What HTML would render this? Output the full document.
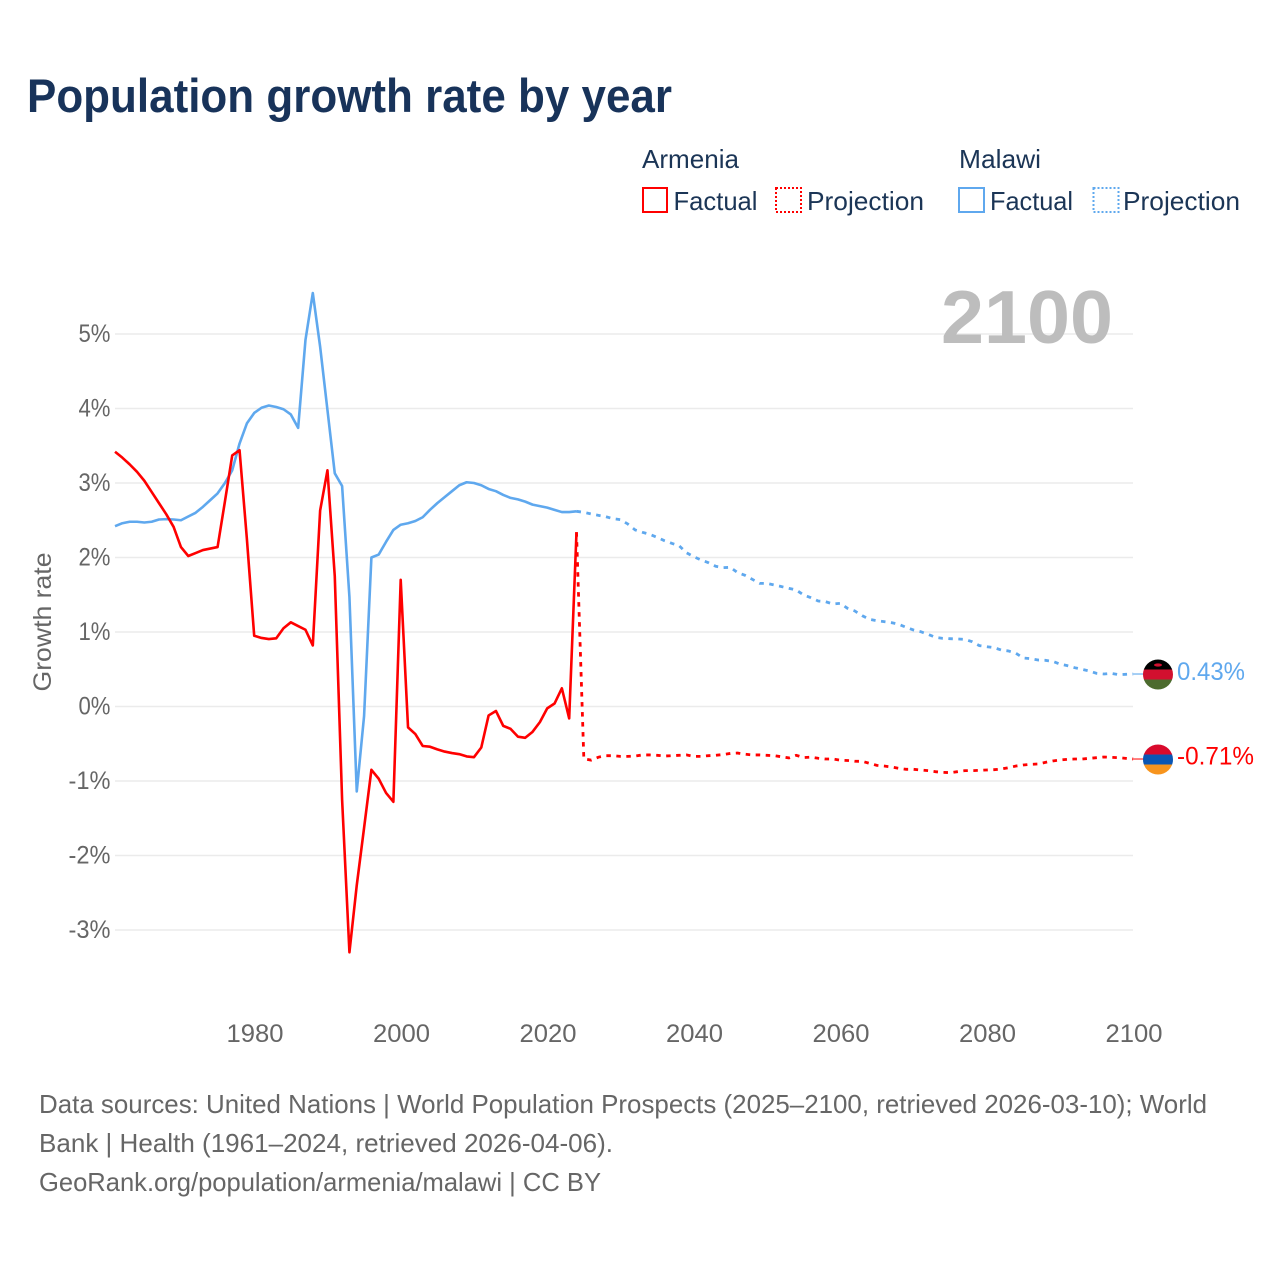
<!DOCTYPE html>
<html lang="en">
<head>
<meta charset="utf-8">
<title>Population growth rate by year</title>
<style>
  html, body { margin: 0; padding: 0; background: #fff; }
  svg { display: block; font-family: "Liberation Sans", sans-serif; }
</style>
</head>
<body>
<svg id="chart" width="1280" height="1280" viewBox="0 0 1280 1280" xmlns="http://www.w3.org/2000/svg">
  <rect x="0" y="0" width="1280" height="1280" fill="#fff"/>
  <text x="27" y="112" font-size="47" font-weight="700" fill="#18335a" textLength="645" lengthAdjust="spacingAndGlyphs">Population growth rate by year</text>

  <g font-size="26" fill="#1b3556">
    <text x="642" y="168" textLength="97" lengthAdjust="spacingAndGlyphs">Armenia</text>
    <rect x="643" y="188" width="24" height="24" fill="none" stroke="#ff0000" stroke-width="2"/>
    <text x="673.500" y="210" textLength="84" lengthAdjust="spacingAndGlyphs">Factual</text>
    <rect x="776" y="188" width="25" height="24" fill="none" stroke="#ff0000" stroke-width="2" stroke-dasharray="2 2"/>
    <text x="807" y="210" textLength="117" lengthAdjust="spacingAndGlyphs">Projection</text>
    <text x="959" y="168" textLength="82" lengthAdjust="spacingAndGlyphs">Malawi</text>
    <rect x="959" y="188" width="25" height="24" fill="none" stroke="#5fa8ee" stroke-width="2"/>
    <text x="990" y="210" textLength="83" lengthAdjust="spacingAndGlyphs">Factual</text>
    <rect x="1093.500" y="188" width="25" height="24" fill="none" stroke="#5fa8ee" stroke-width="2" stroke-dasharray="2 2"/>
    <text x="1123" y="210" textLength="117" lengthAdjust="spacingAndGlyphs">Projection</text>
  </g>

  <g id="grid"></g>
  <g id="y-axis"></g>
  <g id="x-axis"></g>
  <text transform="translate(51 622) rotate(-90)" text-anchor="middle" font-size="25" fill="#666" textLength="139" lengthAdjust="spacingAndGlyphs">Growth rate</text>
  <text x="941" y="343" font-size="75" font-weight="700" fill="#bdbdbd" textLength="172" lengthAdjust="spacingAndGlyphs">2100</text>

  <g id="series"></g>
  <g id="end-markers"></g>

  <g font-size="26" fill="#666">
    <text x="39" y="1113" textLength="1168" lengthAdjust="spacingAndGlyphs">Data sources: United Nations | World Population Prospects (2025–2100, retrieved 2026-03-10); World</text>
    <text x="39" y="1152" textLength="574" lengthAdjust="spacingAndGlyphs">Bank | Health (1961–2024, retrieved 2026-04-06).</text>
    <text x="39" y="1191" textLength="562" lengthAdjust="spacingAndGlyphs">GeoRank.org/population/armenia/malawi | CC BY</text>
  </g>
</svg>

<script>
const yTicks = [5, 4, 3, 2, 1, 0, -1, -2, -3];
const yTickLabels = ["5%", "4%", "3%", "2%", "1%", "0%", "-1%", "-2%", "-3%"];
const xTicks = [1980, 2000, 2020, 2040, 2060, 2080, 2100];
const xTickLabels = ["1980", "2000", "2020", "2040", "2060", "2080", "2100"];

const firstFactualYear = 1961;
const firstProjectionYear = 2024;

const armeniaFactual = [
  3.42, 3.34, 3.25, 3.15, 3.03, 2.88, 2.73, 2.58, 2.41, 2.14,
  2.02, 2.06, 2.10, 2.12, 2.14, 2.75, 3.37, 3.44, 2.25, 0.95,
  0.92, 0.905, 0.915, 1.05, 1.13, 1.08, 1.03, 0.82, 2.63, 3.17,
  1.75, -1.25, -3.30, -2.40, -1.63, -0.85, -0.97, -1.16, -1.28, 1.70,
  -0.28, -0.37, -0.53, -0.54, -0.575, -0.605, -0.625, -0.64, -0.67, -0.68,
  -0.55, -0.12, -0.06, -0.26, -0.30, -0.405, -0.42, -0.34, -0.21, -0.025,
  0.04, 0.245, -0.16, 2.34
];
const armeniaProjection = [
  2.34,
  -0.70, -0.72, -0.68, -0.66, -0.66, -0.67, -0.67, -0.665, -0.65, -0.65,
  -0.655, -0.665, -0.66, -0.655, -0.65, -0.67, -0.67, -0.66, -0.655, -0.645,
  -0.63, -0.625, -0.64, -0.65, -0.65, -0.655, -0.66, -0.675, -0.69, -0.655,
  -0.685, -0.68, -0.695, -0.705, -0.705, -0.72, -0.725, -0.735, -0.736, -0.763,
  -0.79, -0.799, -0.812, -0.83, -0.843, -0.843, -0.852, -0.861, -0.875, -0.884,
  -0.888, -0.875, -0.861, -0.861, -0.857, -0.852, -0.848, -0.839, -0.821, -0.799,
  -0.785, -0.776, -0.772, -0.75, -0.731, -0.718, -0.709, -0.705, -0.705, -0.696,
  -0.687, -0.678, -0.682, -0.687, -0.696, -0.705
];
const malawiFactual = [
  2.42, 2.46, 2.48, 2.48, 2.47, 2.48, 2.51, 2.515, 2.51, 2.50,
  2.55, 2.60, 2.68, 2.77, 2.86, 3.00, 3.17, 3.53, 3.80, 3.94,
  4.01, 4.04, 4.02, 3.99, 3.92, 3.74, 4.92, 5.55, 4.83, 3.98,
  3.13, 2.96, 1.47, -1.14, -0.13, 2.00, 2.04, 2.21, 2.37, 2.44,
  2.46, 2.49, 2.54, 2.64, 2.73, 2.81, 2.89, 2.97, 3.01, 3.00,
  2.97, 2.92, 2.89, 2.84, 2.80, 2.78, 2.75, 2.71, 2.69, 2.67,
  2.64, 2.61, 2.61, 2.62
];
const malawiProjection = [
  2.62,
  2.606, 2.584, 2.566, 2.548, 2.521, 2.508, 2.45, 2.37, 2.338, 2.311,
  2.271, 2.226, 2.19, 2.159, 2.065, 2.011, 1.967, 1.931, 1.882, 1.864,
  1.868, 1.797, 1.761, 1.707, 1.653, 1.653, 1.631, 1.609, 1.586, 1.564,
  1.497, 1.461, 1.416, 1.407, 1.376, 1.385, 1.318, 1.282, 1.219, 1.17,
  1.152, 1.139, 1.125, 1.103, 1.063, 1.027, 1.004, 0.969, 0.928, 0.915,
  0.91, 0.906, 0.902, 0.87, 0.817, 0.803, 0.79, 0.758, 0.745, 0.714,
  0.651, 0.642, 0.624, 0.62, 0.606, 0.57, 0.548, 0.521, 0.499, 0.477,
  0.445, 0.436, 0.445, 0.427, 0.432, 0.436
];
const armeniaEndLabel = "-0.71%";
const malawiEndLabel = "0.43%";

const SVG_NS = "http://www.w3.org/2000/svg";
const RED = "#ff0000";
const BLUE = "#5fa8ee";

function xScale(year) { return 255 + (year - 1980) * 7.325; }
function seriesX(year) { return xScale(year) - 0.8; }
function yScale(value) { return 706.5 - value * 74.5; }

function make(tag, parent, attrs) {
  const el = document.createElementNS(SVG_NS, tag);
  for (const key in attrs) el.setAttribute(key, attrs[key]);
  parent.appendChild(el);
  return el;
}
function linePoints(values, startYear) {
  return values.map(function (v, i) {
    return seriesX(startYear + i).toFixed(2) + "," + yScale(v).toFixed(2);
  }).join(" ");
}

const gridGroup = document.getElementById("grid");
const yAxisGroup = document.getElementById("y-axis");
const xAxisGroup = document.getElementById("x-axis");
const seriesGroup = document.getElementById("series");
const markerGroup = document.getElementById("end-markers");

yTicks.forEach(function (tick, i) {
  const gridLine = make("line", gridGroup, { x1: 115, x2: 1133, y1: yScale(tick), y2: yScale(tick), stroke: "#ebebeb", "stroke-width": 1.6 });
  
  
  const label = make("text", yAxisGroup, { x: 110.500, y: yScale(tick) + 8, "text-anchor": "end", "font-size": 25, fill: "#666", textLength: yTickLabels[i].length > 2 ? 42 : 32, lengthAdjust: "spacingAndGlyphs" });
  label.textContent = yTickLabels[i];
  
  
});

xTicks.forEach(function (tick, i) {
  const label = make("text", xAxisGroup, { x: xScale(tick), y: 1042, "text-anchor": "middle", "font-size": 25, fill: "#666", textLength: 57, lengthAdjust: "spacingAndGlyphs" });
  label.textContent = xTickLabels[i];
  
  
});

const malawiProjectionLine = make("polyline", seriesGroup, { points: linePoints(malawiProjection, firstProjectionYear), fill: "none", stroke: BLUE, "stroke-width": 2.8, "stroke-dasharray": "4.5 5.5" });



const malawiFactualLine = make("polyline", seriesGroup, { points: linePoints(malawiFactual, firstFactualYear), fill: "none", stroke: BLUE, "stroke-width": 2.6, "stroke-linejoin": "round" });



const armeniaFactualLine = make("polyline", seriesGroup, { points: linePoints(armeniaFactual, firstFactualYear), fill: "none", stroke: RED, "stroke-width": 2.6, "stroke-linejoin": "round" });



const armeniaProjectionLine = make("polyline", seriesGroup, { points: linePoints(armeniaProjection, firstProjectionYear), fill: "none", stroke: RED, "stroke-width": 2.8, "stroke-dasharray": "4.5 5.5" });



function drawFlag(cx, cy, id, stripes) {
  const g = make("g", markerGroup, {});
  const clip = make("clipPath", g, { id: id });
  make("circle", clip, { cx: cx, cy: cy, r: 15 });
  const holder = make("g", g, { "clip-path": "url(#" + id + ")" });
  stripes.forEach(function (color, i) {
    make("rect", holder, { x: cx - 15, y: cy - 15 + i * 10, width: 30, height: 10.2, fill: color });
  });
  return g;
}

const malawiY = yScale(malawiProjection[malawiProjection.length - 1]);
const armeniaY = yScale(armeniaProjection[armeniaProjection.length - 1]);

const malawiConnector = make("line", markerGroup, { x1: 1133, x2: 1144, y1: malawiY, y2: malawiY, stroke: "#9cc9f4", "stroke-width": 1.8 });


const armeniaConnector = make("line", markerGroup, { x1: 1133, x2: 1144, y1: armeniaY, y2: armeniaY, stroke: "#ff7070", "stroke-width": 1.8 });



const malawiFlag = drawFlag(1158, malawiY + 0.5, "clip-malawi", ["#000000", "#d2102f", "#4c6b2e"]);


const malawiSun = make("ellipse", malawiFlag, { cx: 1158, cy: malawiY - 9, rx: 4, ry: 1.6, fill: "#d2102f" });



const armeniaFlag = drawFlag(1158, armeniaY + 0.5, "clip-armenia", ["#d90a2c", "#0a56b4", "#f7941d"]);



const malawiValue = make("text", markerGroup, { x: 1177, y: malawiY + 6, "font-size": 25, fill: BLUE, textLength: 68, lengthAdjust: "spacingAndGlyphs" });
malawiValue.textContent = malawiEndLabel;



const armeniaValue = make("text", markerGroup, { x: 1177, y: armeniaY + 5.500, "font-size": 25, fill: RED, textLength: 77, lengthAdjust: "spacingAndGlyphs" });
armeniaValue.textContent = armeniaEndLabel;


</script>
</body>
</html>
